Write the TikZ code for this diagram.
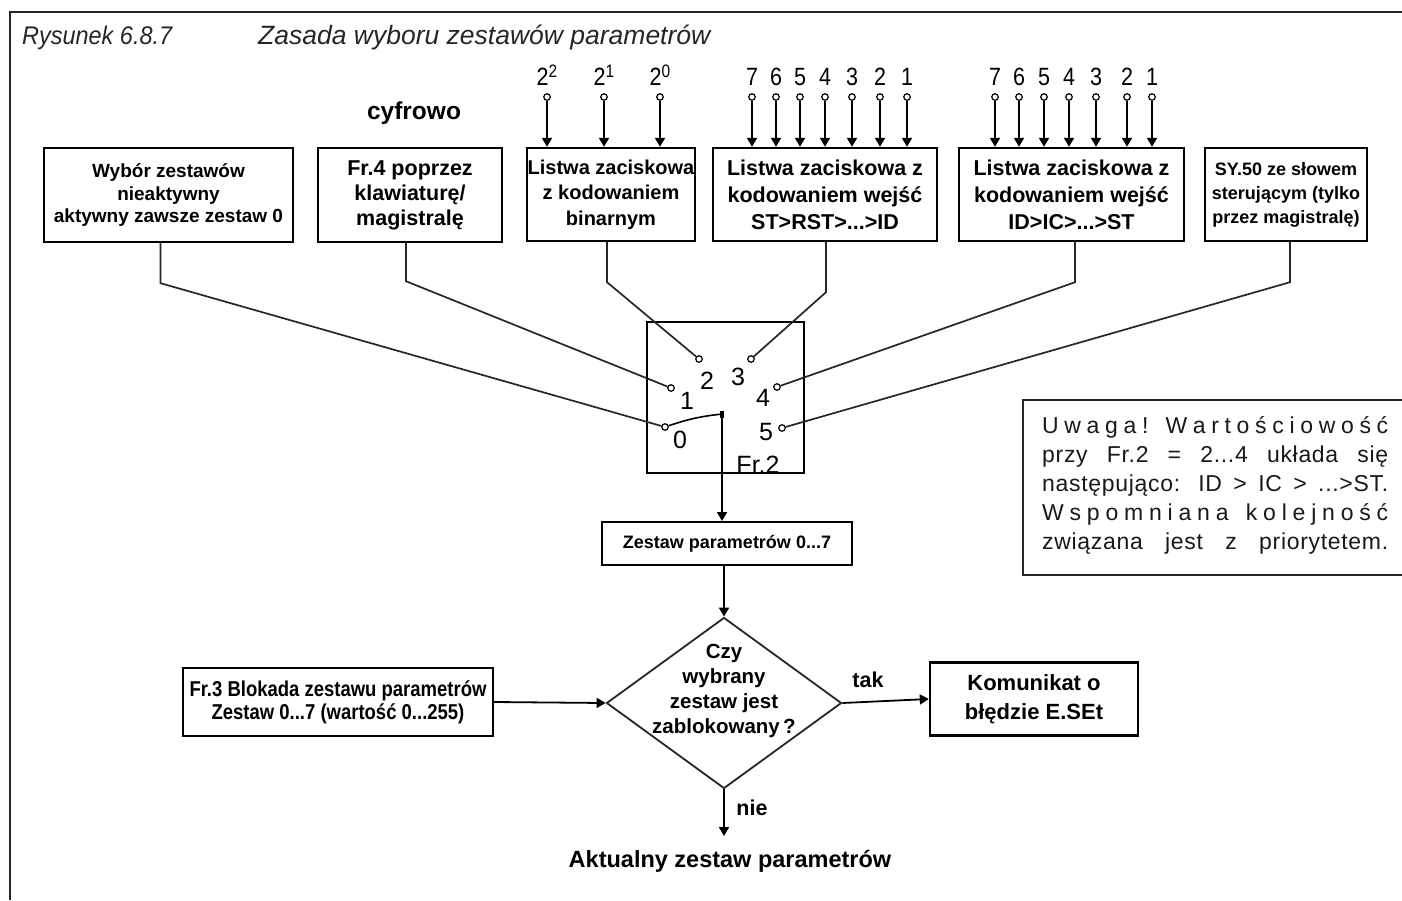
\documentclass[tikz,border=0pt]{standalone}
\usepackage{fontspec}
\setmainfont{Liberation Sans}
\newfontfamily\condfont[FakeStretch=0.86]{Liberation Sans}
\newfontfamily\titlefont[FakeStretch=0.92]{Liberation Sans}
\newfontfamily\notefont[LetterSpace=3]{Liberation Sans}
\usetikzlibrary{arrows.meta,shapes.geometric,calc}
\begin{document}
\begin{tikzpicture}[x=1pt,y=-1pt,
  box/.style={draw, line width=2.4pt, rectangle, inner sep=0pt, align=center, font=\bfseries},
  conn/.style={line width=1.8pt},
  diag/.style={line width=1.7pt, black!85},
  arr/.style={-{Triangle[width=10pt,length=9pt]}},
  contact/.style={circle, draw, line width=1.2pt, minimum size=6.5pt, inner sep=0pt},
  pinlab/.style={anchor=base, font=\condfont\fontsize{25}{25}\selectfont},
  swlab/.style={font=\fontsize{25}{25}\selectfont, inner sep=0pt},
  bold21/.style={font=\bfseries\fontsize{21.5}{25}\selectfont},
  notetxt/.style={anchor=base west, inner sep=0pt, font=\notefont\fontsize{23}{23}\selectfont, text=black!90}
]
\useasboundingbox (0,0) rectangle (1402,900);
\fill[white] (0,0) rectangle (1402,900);

% frame
\draw[line width=2.5pt, black!85] (1402,12) -- (10,12) -- (10,900);

% title
\node[anchor=base west, inner sep=0pt, text=black!85, font=\titlefont\itshape\fontsize{25.5}{25.5}\selectfont] (t1) at (22,44) {Rysunek 6.8.7};
\node[anchor=base west, inner sep=0pt, text=black!85, font=\itshape\fontsize{26.5}{26.5}\selectfont] (t2) at (258,44) {Zasada wyboru zestawów parametrów};

\node[font=\bfseries\fontsize{24.5}{24.5}\selectfont] (cyf) at (414,113) {cyfrowo};

% top boxes
\node[box, minimum width=249pt, minimum height=94pt, font=\bfseries\fontsize{19}{22.5}\selectfont] (b1) at (168.5,195) {Wybór zestawów\\nieaktywny\\aktywny zawsze zestaw 0};
\node[box, minimum width=184pt, minimum height=94pt, font=\bfseries\fontsize{21.5}{25}\selectfont] (b2) at (410,195) {Fr.4 poprzez\\klawiaturę/\\magistralę};
\node[box, minimum width=168pt, minimum height=93pt, font=\bfseries\fontsize{20}{25.5}\selectfont] (b3) at (611,194.5) {Listwa zaciskowa\\z kodowaniem\\binarnym};
\node[box, minimum width=224pt, minimum height=93pt, font=\bfseries\fontsize{21.5}{27}\selectfont] (b4) at (825,194.5) {Listwa zaciskowa z\\kodowaniem wejść\\ST>RST>...>ID};
\node[box, minimum width=225pt, minimum height=93pt, font=\bfseries\fontsize{21.5}{27}\selectfont] (b5) at (1071.5,194.5) {Listwa zaciskowa z\\kodowaniem wejść\\ID>IC>...>ST};
\node[box, minimum width=162pt, minimum height=93pt, font=\bfseries\fontsize{18}{24}\selectfont] (b6) at (1286,194.5) {SY.50 ze słowem\\sterującym (tylko\\przez magistralę)};

% binary inputs
\foreach \x/\e [count=\i] in {547/2,604/1,660/0}{
  \node[contact] (bp\i) at (\x,97) {};
  \node[pinlab] (bl\i) at (\x,85) {2\raisebox{8pt}{\fontsize{18}{18}\selectfont\e}};
  \draw[conn,arr] (bp\i) -- (bp\i |- b3.north);
}
% inputs box 4
\foreach \x/\d [count=\i] in {752/7,776/6,800/5,825/4,852/3,880/2,907/1}{
  \node[contact] (cp\i) at (\x,97) {};
  \node[pinlab] (cl\i) at (\x,85) {\d};
  \draw[conn,arr] (cp\i) -- (cp\i |- b4.north);
}
% inputs box 5
\foreach \x/\d [count=\i] in {995/7,1019/6,1044/5,1069/4,1096/3,1127/2,1152/1}{
  \node[contact] (dp\i) at (\x,97) {};
  \node[pinlab] (dl\i) at (\x,85) {\d};
  \draw[conn,arr] (dp\i) -- (dp\i |- b5.north);
}

% switch
\node[draw, line width=2pt, minimum width=157pt, minimum height=151pt, inner sep=0pt] (sw) at (725.5,397.5) {};
\node[contact] (c0) at (665,427) {};
\node[contact] (c1) at (671,388) {};
\node[contact] (c2) at (699,359) {};
\node[contact] (c3) at (751,359) {};
\node[contact] (c4) at (777,387) {};
\node[contact] (c5) at (782,428) {};
\node[swlab] (l0) at (680,440) {0};
\node[swlab] (l1) at (687,401) {1};
\node[swlab] (l2) at (707,381) {2};
\node[swlab] (l3) at (738,377) {3};
\node[swlab] (l4) at (763,398) {4};
\node[swlab] (l5) at (766,432) {5};
\node[swlab] (lfr) at (758,465) {Fr.2};
\node[fill, minimum width=4pt, minimum height=7pt, inner sep=0pt] (piv) at (722,414) {};
\draw[line width=1.6pt] (c0) to[bend left=6] (piv);

% connectors from boxes to switch
\draw[diag] ([xshift=-8pt]b1.south) -- ++(0,40) -- (c0);
\draw[diag] ([xshift=-4pt]b2.south) -- ++(0,38) -- (c1);
\draw[diag] ([xshift=-4pt]b3.south) -- ++(0,40) -- (c2);
\draw[diag] ([xshift=1pt]b4.south) -- ++(0,50) -- (c3);
\draw[diag] ([xshift=3.5pt]b5.south) -- ++(0,40) -- (c4);
\draw[diag] ([xshift=4pt]b6.south) -- ++(0,40) -- (c5);

% lower part
\node[box, line width=2pt, minimum width=250pt, minimum height=43pt, font=\bfseries\fontsize{18}{20}\selectfont] (zes) at (727,543.5) {Zestaw parametrów 0...7};
\draw[conn,arr] (piv) -- (piv |- zes.north);

\node[draw, diamond, line width=1.8pt, black!85, minimum width=235pt, minimum height=171pt, inner sep=0pt] (dec) at (724,703) {};
\node[align=center, inner sep=0pt, font=\bfseries\fontsize{20.5}{25}\selectfont] (dect) at (724,691) {Czy\\wybrany\\zestaw jest\\zablokowany\,?};
\draw[conn,arr] (zes.south -| dec.north) -- (dec.north);

\node[box, minimum width=310pt, minimum height=68pt, font=\condfont\bfseries\fontsize{21.5}{23}\selectfont] (fr3) at (338,702) {Fr.3 Blokada zestawu parametrów\\Zestaw 0...7 (wartość 0...255)};
\draw[conn,arr] (fr3.east) -- (dec.west);

\node[box, minimum width=208pt, minimum height=73pt, font=\bfseries\fontsize{22}{29}\selectfont] (kom) at (1034,699) {Komunikat o\\błędzie E.SEt};
\draw[conn,arr] (dec.east) -- (kom.west);

\node[bold21] (tak) at (868,680) {tak};
\node[bold21] (nie) at (752,808) {nie};

\node[font=\bfseries\fontsize{23.5}{23.5}\selectfont] (akt) at (730,861) {Aktualny zestaw parametrów};
\coordinate (aend) at (724,836);
\draw[conn,arr] (dec.south) -- (aend);

% note
\draw[line width=2pt, black!85] (1402,400) -- (1023,400) -- (1023,575) -- (1402,575);
\node[notetxt] (n1) at (1042,433) {\makebox[346pt][s]{U\hfill w\hfill a\hfill g\hfill a\hfill !\hfill\hfill\hfill W\hfill a\hfill r\hfill t\hfill o\hfill ś\hfill c\hfill i\hfill o\hfill w\hfill o\hfill ś\hfill ć}};
\node[notetxt] (n2) at (1042,462) {\makebox[346pt][s]{przy Fr.2 = 2...4 układa się}};
\node[notetxt] (n3) at (1042,491) {\makebox[346pt][s]{następująco: ID > IC > ...>ST.}};
\node[notetxt] (n4) at (1042,520) {\makebox[346pt][s]{W\hfill s\hfill p\hfill o\hfill m\hfill n\hfill i\hfill a\hfill n\hfill a\hfill\hfill\hfill k\hfill o\hfill l\hfill e\hfill j\hfill n\hfill o\hfill ś\hfill ć}};
\node[notetxt] (n5) at (1042,549) {\makebox[346pt][s]{związana jest z priorytetem.}};
\end{tikzpicture}
\end{document}
